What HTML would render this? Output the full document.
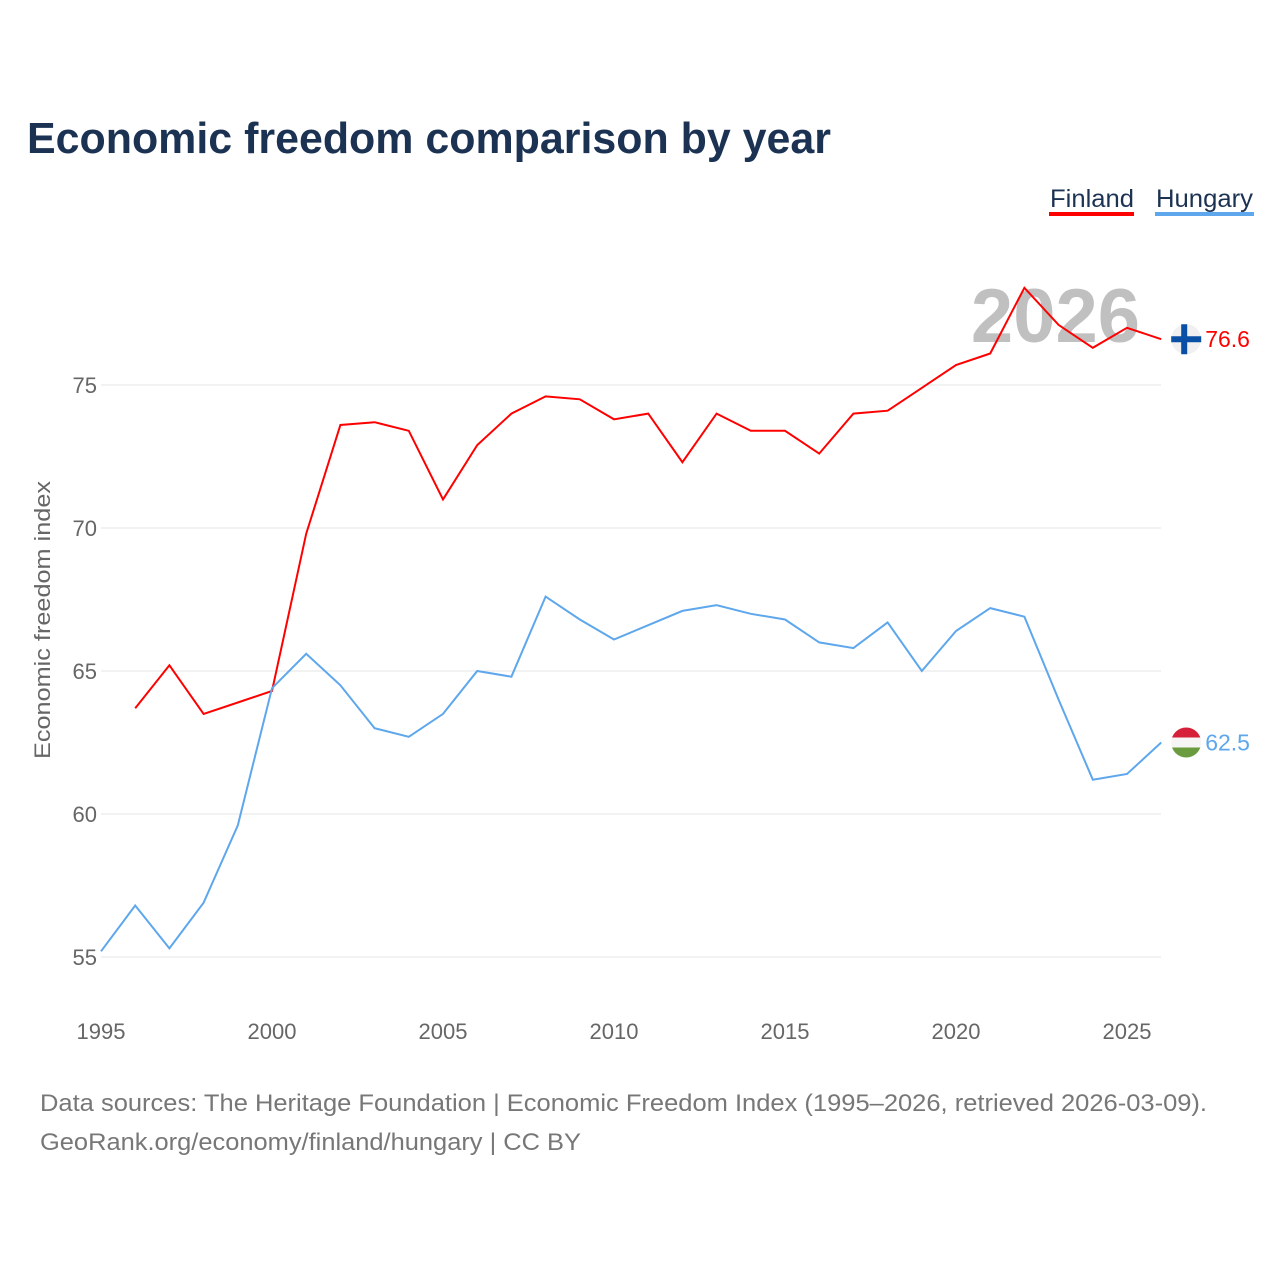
<!DOCTYPE html>
<html><head><meta charset="utf-8"><style>
body{margin:0;background:#fff;font-family:"Liberation Sans",sans-serif;}
svg text{font-family:"Liberation Sans",sans-serif;}
</style></head><body>
<svg width="1280" height="1280" viewBox="0 0 1280 1280">
<text x="27" y="153" font-size="44" font-weight="bold" fill="#1b3252" textLength="804" lengthAdjust="spacingAndGlyphs">Economic freedom comparison by year</text>
<g><text x="1050" y="207" font-size="25" fill="#1b3252" textLength="84" lengthAdjust="spacingAndGlyphs">Finland</text><rect x="1049" y="212" width="85" height="4" fill="#ff0000"/></g>
<g><text x="1156" y="207" font-size="25" fill="#1b3252" textLength="97" lengthAdjust="spacingAndGlyphs">Hungary</text><rect x="1155" y="212" width="99" height="4" fill="#5ea7ec"/></g>
<text x="1140" y="342" text-anchor="end" font-size="76" font-weight="bold" fill="#c0c0c0">2026</text>
<g id="grid"></g><g id="xt"></g><g id="lines"></g>
<text transform="translate(50,620) rotate(-90)" text-anchor="middle" font-size="22" fill="#666" textLength="278" lengthAdjust="spacingAndGlyphs">Economic freedom index</text>
<text x="40" y="1111" font-size="24" fill="#777" textLength="1167" lengthAdjust="spacingAndGlyphs">Data sources: The Heritage Foundation | Economic Freedom Index (1995–2026, retrieved 2026-03-09).</text>
<text x="40" y="1150" font-size="24" fill="#777" textLength="541" lengthAdjust="spacingAndGlyphs">GeoRank.org/economy/finland/hungary | CC BY</text>
</svg>
<script>
const years=[1995,1996,1997,1998,1999,2000,2001,2002,2003,2004,2005,2006,2007,2008,2009,2010,2011,2012,2013,2014,2015,2016,2017,2018,2019,2020,2021,2022,2023,2024,2025,2026];
const finland=[null,63.7,65.2,63.5,63.9,64.3,69.8,73.6,73.7,73.4,71.0,72.9,74.0,74.6,74.5,73.8,74.0,72.3,74.0,73.4,73.4,72.6,74.0,74.1,74.9,75.7,76.1,78.4,77.1,76.3,77.0,76.6];
const hungary=[55.2,56.8,55.3,56.9,59.6,64.4,65.6,64.5,63.0,62.7,63.5,65.0,64.8,67.6,66.8,66.1,66.6,67.1,67.3,67.0,66.8,66.0,65.8,66.7,65.0,66.4,67.2,66.9,64.0,61.2,61.4,62.5];
const yTicks=[55,60,65,70,75];
const xTicks=[1995,2000,2005,2010,2015,2020,2025];
const NS='http://www.w3.org/2000/svg';
const X=y=>101+(y-1995)*34.2;
const Y=v=>385+(75-v)*28.6;
function mk(t,a,p,txt){const e=document.createElementNS(NS,t);for(const k in a)e.setAttribute(k,a[k]);if(txt!=null)e.textContent=txt;p.appendChild(e);return e;}
const g=document.getElementById('grid');
yTicks.forEach(v=>{
const l=mk('line',{x1:101,x2:1161,y1:Y(v),y2:Y(v),stroke:'#e6e6e6'},g);


const t=mk('text',{x:97,y:Y(v)+8,'text-anchor':'end','font-size':22,fill:'#666'},g,v);


});
const xt=document.getElementById('xt');
xTicks.forEach(v=>{
const t=mk('text',{x:X(v),y:1039,'text-anchor':'middle','font-size':22,fill:'#666'},xt,v);


});
const lg=document.getElementById('lines');
function series(vals,color,name){
let d='';vals.forEach((v,i)=>{if(v==null)return;d+=(d?'L':'M')+X(years[i]).toFixed(1)+','+Y(v).toFixed(1);});
const p=mk('path',{d:d,fill:'none',stroke:color,'stroke-width':2},lg);


const last=vals[vals.length-1],ly=Y(last),lx=X(years[years.length-1]);
const t=mk('text',{x:lx+44,y:ly+8,'font-size':23,fill:color},lg,last.toFixed(1));


return [lx+25,ly];
}
const [fx,fy]=series(finland,'#ff0000','finland');
const [hx,hy]=series(hungary,'#5ea7ec','hungary');
const f=mk('g',{},lg);


mk('circle',{cx:fx,cy:fy,r:15,fill:'#f0f0f0'},f);
mk('rect',{x:fx-15,y:fy-3,width:30,height:6,fill:'#0a4fa6'},f);
mk('rect',{x:fx-5,y:fy-15,width:6,height:30,fill:'#0a4fa6'},f);
const h=mk('g',{},lg);


mk('clipPath',{id:'hc'},h);mk('circle',{cx:hx,cy:hy,r:15},h.lastChild);
const hg=mk('g',{'clip-path':'url(#hc)'},h);
mk('rect',{x:hx-15,y:hy-15,width:30,height:10,fill:'#d6203a'},hg);
mk('rect',{x:hx-15,y:hy-5,width:30,height:10,fill:'#f5f5f5'},hg);
mk('rect',{x:hx-15,y:hy+5,width:30,height:10,fill:'#6a9c3f'},hg);
</script>
</body></html>
